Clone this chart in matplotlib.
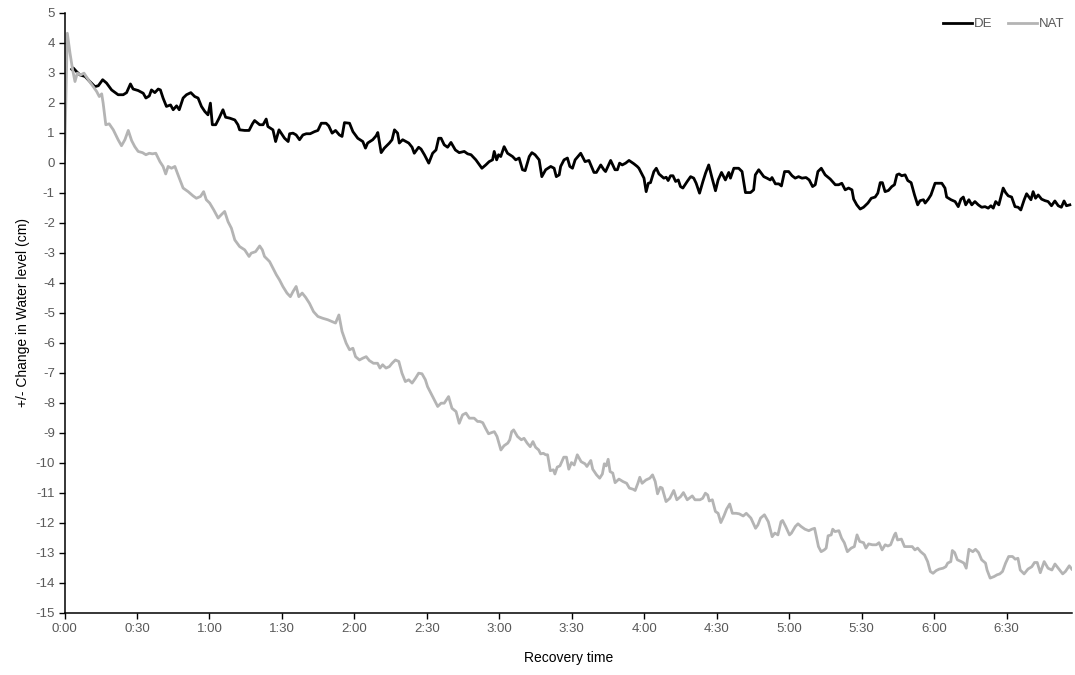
import matplotlib
matplotlib.use("Agg")
import matplotlib.pyplot as plt
from matplotlib.ticker import FixedLocator, FuncFormatter

plt.rcParams['font.family'] = ['Liberation Sans', 'DejaVu Sans']
plt.rcParams['axes.unicode_minus'] = False

# recovery time in minutes, water level change in cm
de_time = [3.0, 3.65, 5.0, 6.4, 8.5, 10.5, 12.6, 14.0, 15.8, 17.4, 19.5, 22.2, 24.3, 25.7,
           27.3, 28.4, 30.5, 32.6, 33.7, 35.1, 36.0, 37.4, 38.8, 39.7, 40.8, 42.2, 43.9,
           45.0, 46.4, 47.5, 49.1, 50.5, 52.3, 53.9, 55.3, 56.7, 58.1, 59.4, 60.4, 61.2,
           62.6, 64.0, 65.6, 66.7, 68.4, 70.5, 71.8, 72.5, 74.6, 76.4, 77.8, 78.7, 80.8,
           82.2, 83.5, 84.2, 86.3, 87.4, 88.8, 90.2, 91.1, 92.6, 93.2, 94.6, 95.9, 97.3,
           98.7, 100.1, 101.7, 103.5, 104.9, 106.3, 108.3, 109.4, 110.8, 112.2, 113.8,
           114.9, 115.9, 118.0, 119.4, 121.4, 123.5, 124.6, 125.5, 127.6, 129.0, 129.7,
           131.1, 132.4, 134.5, 135.6, 136.6, 137.9, 138.6, 140.0, 142.5, 143.9, 144.8,
           146.6, 147.6, 149.0, 150.8, 152.4, 153.8, 154.9, 155.9, 157.2, 158.6, 160.0,
           161.8, 163.4, 165.5, 166.9, 168.3, 170.3, 172.8, 174.4, 175.8, 177.2, 177.9,
           178.9, 179.7, 180.6, 182.0, 183.4, 185.5, 186.8, 188.2, 189.6, 190.7, 192.4,
           193.5, 194.8, 196.5, 197.6, 199.2, 201.3, 202.7, 203.6, 204.8, 205.4, 206.8,
           208.2, 209.2, 210.3, 211.4, 213.7, 215.5, 217.1, 219.2, 220.2, 222.0, 223.3,
           224.0, 226.1, 227.9, 228.9, 229.8, 230.9, 232.3, 233.7, 235.7, 237.1, 237.8,
           239.9, 240.8, 241.7, 242.6, 244.0, 245.0, 246.1, 248.1, 249.1, 249.9, 250.9,
           251.9, 253.0, 254.1, 255.0, 256.0, 257.8, 259.2, 260.5, 261.5, 262.9, 264.3,
           265.4, 266.7, 268.1, 269.5, 270.6, 272.0, 272.9, 273.6, 275.0, 275.7, 277.1,
           279.1, 280.5, 281.9, 284.0, 285.3, 286.0, 287.4, 289.5, 290.8, 292.2, 292.9,
           294.3, 295.7, 296.8, 298.1, 299.8, 301.2, 302.5, 303.9, 305.3, 307.0, 308.3,
           309.7, 310.8, 311.9, 313.3, 314.9, 317.0, 319.1, 320.5, 321.8, 323.2, 324.6,
           326.0, 326.7, 328.0, 329.4, 330.8, 332.6, 334.0, 335.6, 336.7, 337.7, 338.6,
           339.7, 341.1, 342.5, 343.6, 344.6, 345.5, 346.6, 348.0, 349.1, 350.5, 351.9,
           353.2, 354.2, 355.6, 356.3, 357.6, 358.7, 360.4, 363.2, 364.5, 365.2, 367.0,
           368.7, 370.0, 371.1, 372.1, 373.1, 374.4, 375.6, 376.9, 378.3, 379.7, 381.1,
           382.4, 383.5, 384.5, 385.5, 386.8, 388.6, 389.6, 390.7, 392.1, 393.5, 394.8,
           395.9, 397.3, 398.3, 400.1, 401.0, 402.0, 403.1, 404.5, 405.9, 407.2, 408.6,
           410.0, 411.4, 412.7, 413.8, 414.8, 416.2]
de_level = [3.12, 3.16, 3.04, 2.93, 2.88, 2.71, 2.54, 2.57, 2.77, 2.66, 2.43, 2.27, 2.27, 2.34,
            2.63, 2.46, 2.41, 2.32, 2.16, 2.23, 2.43, 2.34, 2.46, 2.43, 2.16, 1.88, 1.93,
            1.77, 1.90, 1.77, 2.16, 2.27, 2.34, 2.21, 2.16, 1.88, 1.71, 1.60, 1.99, 1.27,
            1.27, 1.49, 1.77, 1.52, 1.49, 1.43, 1.27, 1.10, 1.08, 1.08, 1.30, 1.41, 1.27,
            1.27, 1.46, 1.21, 1.10, 0.71, 1.10, 0.93, 0.82, 0.71, 0.97, 0.99, 0.93, 0.77,
            0.93, 0.97, 0.97, 1.04, 1.08, 1.32, 1.32, 1.23, 0.99, 1.08, 0.93,
            0.88, 1.34, 1.32, 1.04, 0.82, 0.71, 0.49, 0.66, 0.77, 0.90, 1.01,
            0.34, 0.49, 0.66, 0.77, 1.10, 0.99, 0.66, 0.77, 0.66, 0.52, 0.32,
            0.52, 0.46, 0.27, -0.01, 0.32, 0.43, 0.82, 0.82, 0.60, 0.52, 0.68,
            0.43, 0.34, 0.38, 0.30, 0.27, 0.10, -0.18, -0.07, 0.04, 0.10, 0.38,
            0.10, 0.27, 0.21, 0.54, 0.32, 0.21, 0.10, 0.16, -0.23, -0.26, 0.21,
            0.34, 0.27, 0.10, -0.46, -0.23, -0.12, -0.18, -0.46, -0.40, -0.12, 0.10,
            0.16, -0.12, -0.18, 0.10, 0.32, 0.04, 0.08, -0.32, -0.32, -0.07, -0.23,
            -0.29, 0.08, -0.23, -0.23, -0.01, -0.07, -0.01, 0.08, -0.03, -0.12, -0.18,
            -0.51, -0.96, -0.68, -0.66, -0.29, -0.18, -0.37, -0.51, -0.48, -0.59, -0.43,
            -0.43, -0.62, -0.57, -0.79, -0.84, -0.62, -0.46, -0.51, -0.68, -1.01, -0.62,
            -0.34, -0.07, -0.51, -0.93, -0.57, -0.32, -0.46, -0.57, -0.32, -0.51, -0.18,
            -0.18, -0.29, -0.99, -0.99, -0.90, -0.40, -0.23, -0.46, -0.51, -0.57, -0.49,
            -0.70, -0.70, -0.77, -0.29, -0.29, -0.43, -0.51, -0.46, -0.51, -0.49, -0.57,
            -0.79, -0.73, -0.29, -0.18, -0.40, -0.54, -0.73, -0.73, -0.68, -0.90, -0.84,
            -0.90, -1.21, -1.40, -1.54, -1.48, -1.34, -1.18, -1.14, -1.01, -0.66, -0.66,
            -0.96, -0.92, -0.79, -0.73, -0.40, -0.37, -0.43, -0.40, -0.59, -0.66, -1.07,
            -1.40, -1.26, -1.23, -1.34, -1.21, -1.07, -0.68, -0.68, -0.84, -1.14, -1.23,
            -1.29, -1.46, -1.21, -1.14, -1.40, -1.23, -1.40, -1.29, -1.40, -1.48, -1.46,
            -1.51, -1.43, -1.51, -1.29, -1.40, -0.84, -0.99, -1.10, -1.14, -1.46, -1.48,
            -1.57, -1.23, -1.03, -1.23, -0.96, -1.18, -1.07, -1.21, -1.26, -1.29, -1.43,
            -1.27, -1.43, -1.48, -1.27, -1.43, -1.40]

nat_time = [0.0, 1.17, 2.27, 3.37, 4.34, 5.3, 6.68, 8.06, 9.43, 10.8, 11.9, 13.3, 14.4, 15.4,
            16.0, 17.1, 18.5, 20.2, 22.2, 23.6, 25.0, 26.4, 27.8, 29.1, 30.5, 32.3, 33.7,
            35.1, 36.4, 37.8, 39.5, 40.8, 41.9, 42.9, 44.3, 45.7, 47.0, 49.1, 51.2, 53.2,
            54.6, 56.3, 57.6, 58.7, 60.1, 61.8, 63.6, 64.9, 66.3, 67.7, 69.1, 70.5, 72.5,
            74.6, 76.4, 77.3, 79.1, 80.8, 81.9, 82.8, 84.9, 86.3, 87.7, 89.0, 90.4, 92.1,
            93.5, 94.6, 95.9, 97.0, 98.4, 99.8, 101.4, 103.1, 104.9, 106.9, 109.0, 110.8,
            112.2, 113.6, 114.9, 116.6, 118.0, 119.4, 120.5, 122.1, 123.5, 124.9, 126.2,
            127.9, 129.6, 130.6, 131.7, 133.1, 134.5, 135.6, 137.0, 138.4, 139.7, 141.1,
            142.5, 143.9, 145.3, 146.6, 148.0, 149.4, 150.3, 151.7, 153.1, 154.5, 155.9,
            157.2, 159.0, 160.4, 162.1, 163.4, 164.8, 166.2, 167.6, 169.6, 171.0,
            172.0, 173.15, 174.27, 175.55, 176.82, 177.94, 179.06, 180.66, 181.94, 183.53,
            184.33, 185.13, 185.93, 187.53, 189.12, 190.24, 191.52, 192.8, 193.92, 195.03,
            196.31, 197.11, 198.23, 199.19, 199.99, 201.11, 202.38, 203.02, 203.98, 205.1,
            206.7, 207.81, 208.77, 209.89, 211.01, 212.29, 213.88, 215.48, 216.28, 217.88,
            218.68, 220.27, 221.55, 222.67, 223.47, 224.27, 225.07, 225.87, 226.98, 227.94,
            229.54, 231.14, 232.73, 233.85, 235.45, 236.25, 237.37, 238.16, 239.12, 240.72,
            242.32, 243.44, 244.55, 245.51, 246.63, 247.43, 249.03, 250.62, 252.22, 253.5,
            255.1, 256.22, 257.81, 259.89, 261.01, 263.08, 264.2, 265.32, 266.28, 266.92,
            268.2, 269.47, 270.59, 271.71, 272.99, 274.11, 275.38, 276.5, 278.1, 279.38,
            280.98, 282.25, 284.17, 286.09, 287.05, 288.16, 289.76, 291.36, 292.96, 294.07,
            295.35, 296.63, 297.27, 298.55, 300.14, 300.94, 302.54, 303.66, 304.94, 306.53,
            308.13, 309.41, 310.53, 312.13, 313.24, 314.52, 315.32, 316.12, 317.4, 318.03,
            318.99, 320.59, 321.71, 322.83, 324.1, 325.7, 326.98, 328.1, 329.22, 330.81,
            331.77, 332.89, 334.49, 336.08, 337.2, 338.48, 339.76, 340.88, 342.0, 343.59,
            344.07, 344.87, 346.47, 347.75, 349.66, 350.94, 352.06, 353.18, 354.46, 356.05,
            357.33, 358.45, 359.57, 360.85, 362.12, 363.72, 364.84, 365.64, 366.92, 367.55,
            368.51, 369.63, 371.23, 372.35, 373.3, 374.42, 376.02, 377.14, 378.42, 379.69,
            381.29, 381.93, 383.21, 384.8, 386.08, 387.2, 388.32, 389.6, 390.88, 392.47,
            393.59, 394.71, 395.67, 397.27, 398.86, 400.46, 401.58, 402.69, 403.97, 405.57,
            407.17, 408.77, 410.04, 411.96, 413.24, 414.36, 415.96, 417.0]
nat_level = [0.0, 4.32, 3.66, 3.10, 2.71, 2.99, 2.93, 2.99, 2.82, 2.66, 2.54, 2.38, 2.21, 2.30,
             1.99, 1.27, 1.30, 1.10, 0.77, 0.57, 0.77, 1.08, 0.74, 0.54, 0.38, 0.34, 0.27,
             0.32, 0.30, 0.32, 0.04, -0.12, -0.37, -0.12, -0.18, -0.12, -0.40, -0.84, -0.96, -1.10,
             -1.18, -1.12, -0.96, -1.23, -1.34, -1.57, -1.84, -1.73, -1.62, -1.96, -2.18, -2.57, -2.79,
             -2.90, -3.12, -3.01, -2.96, -2.77, -2.90, -3.12, -3.29, -3.51, -3.73, -3.90, -4.12, -4.34,
             -4.46, -4.29, -4.12, -4.46, -4.34, -4.48, -4.68, -4.96, -5.12, -5.18, -5.23, -5.29,
             -5.34, -5.07, -5.62, -6.01, -6.23, -6.18, -6.46, -6.57, -6.51, -6.46, -6.59,
             -6.68, -6.68, -6.84, -6.73, -6.84, -6.79, -6.68, -6.57, -6.62, -7.01, -7.29,
             -7.23, -7.34, -7.18, -7.01, -7.03, -7.23, -7.46, -7.68, -7.90, -8.12, -8.01,
             -8.01, -7.79, -8.18, -8.29, -8.68, -8.40, -8.34, -8.51, -8.51, -8.62,
             -8.62, -8.66, -8.84, -9.03, -8.99, -8.96, -9.12, -9.57, -9.43, -9.34,
             -9.23, -8.96, -8.90, -9.12, -9.23, -9.18, -9.34, -9.46, -9.29, -9.48,
             -9.57, -9.70, -9.68, -9.73, -9.73, -10.26, -10.23, -10.37, -10.14, -10.10,
             -9.81, -9.81, -10.21, -9.99, -10.07, -9.73, -9.96, -10.03, -10.12, -9.92,
             -10.21, -10.40, -10.51, -10.37, -10.03, -10.10, -9.88, -10.29, -10.34, -10.66,
             -10.54, -10.62, -10.68, -10.84, -10.88, -10.92, -10.68, -10.48, -10.68, -10.57,
             -10.51, -10.40, -10.62, -11.03, -10.81, -10.84, -11.29, -11.18, -10.92, -11.23,
             -11.12, -10.99, -11.23, -11.10, -11.23, -11.23, -11.18, -11.01, -11.07, -11.27,
             -11.23, -11.62, -11.68, -11.99, -11.77, -11.54, -11.37, -11.68, -11.68, -11.70,
             -11.77, -11.68, -11.84, -12.18, -12.07, -11.84, -11.73, -11.96, -12.46, -12.34,
             -12.40, -11.96, -11.92, -12.12, -12.40, -12.34, -12.12, -12.03, -12.12, -12.21,
             -12.26, -12.21, -12.18, -12.79, -12.96, -12.90, -12.84, -12.43, -12.40, -12.21,
             -12.29, -12.26, -12.51, -12.66, -12.96, -12.84, -12.79, -12.40, -12.62, -12.66,
             -12.84, -12.70, -12.73, -12.73, -12.66, -12.90, -12.73, -12.77, -12.73, -12.40,
             -12.34, -12.57, -12.54, -12.79, -12.79, -12.79, -12.90, -12.84, -12.96, -13.07,
             -13.29, -13.62, -13.68, -13.59, -13.54, -13.51, -13.46, -13.34, -13.29, -12.92,
             -12.99, -13.23, -13.29, -13.34, -13.51, -12.88, -12.96, -12.88, -12.99, -13.23,
             -13.34, -13.57, -13.84, -13.79, -13.73, -13.70, -13.62, -13.34, -13.12, -13.12,
             -13.21, -13.18, -13.57, -13.70, -13.54, -13.46, -13.32, -13.32, -13.66, -13.29,
             -13.51, -13.57, -13.37, -13.57, -13.70, -13.62, -13.43, -13.54]

x_ticks = list(range(0, 391, 30))
y_ticks = list(range(-15, 6))


def fmt_time(m, pos):
    m = int(round(m))
    return "%d:%02d" % (m // 60, m % 60)


fig = plt.figure(figsize=(10.75, 6.75), dpi=100)
ax = fig.add_axes([0.06, 0.092, 0.937, 0.889])

ax.plot(de_time, de_level, color='black', linewidth=2.0, label='DE')
ax.plot(nat_time, nat_level, color='#b4b4b4', linewidth=2.0, label='NAT')

ax.set_xlim(0, 417)
ax.set_ylim(-15, 5)
ax.xaxis.set_major_locator(FixedLocator(x_ticks))
ax.xaxis.set_major_formatter(FuncFormatter(fmt_time))
ax.yaxis.set_major_locator(FixedLocator(y_ticks))

for s in ['top', 'right']:
    ax.spines[s].set_visible(False)
for s in ['left', 'bottom']:
    ax.spines[s].set_linewidth(1.1)
    ax.spines[s].set_color('black')

ax.tick_params(axis='both', direction='out', length=4, width=1.0, color='black',
               labelsize=9.5, labelcolor='#595959', pad=3)

ax.set_xlabel('Recovery time', fontsize=10, color='black', labelpad=12)
ax.set_ylabel('+/- Change in Water level (cm)', fontsize=10, color='black', labelpad=4)

leg = ax.legend(loc='upper right', bbox_to_anchor=(0.998, 1.0), ncol=2, frameon=False,
                fontsize=9.5, handlelength=2.2, handletextpad=0.15, columnspacing=1.2,
                borderaxespad=0)
for t in leg.get_texts():
    t.set_color('#595959')

fig.savefig('out.png', dpi=100)
